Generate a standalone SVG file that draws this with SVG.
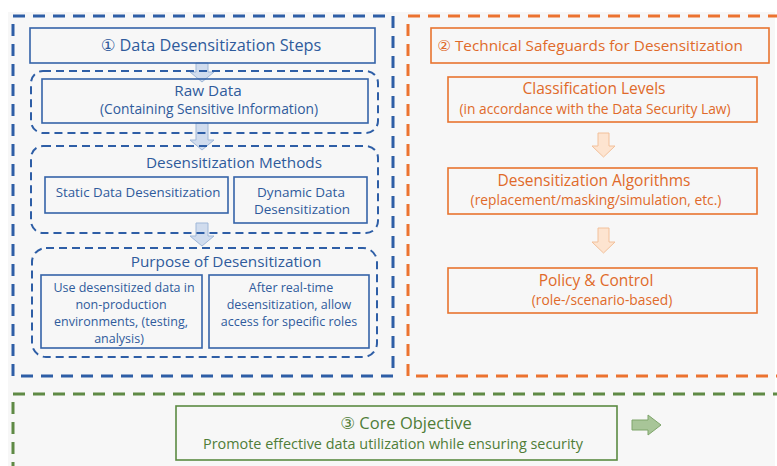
<svg xmlns="http://www.w3.org/2000/svg" width="777" height="466" viewBox="0 0 777 466">
<style>
text{font-family:"Open Sans","Noto Sans","DejaVu Sans",sans-serif;text-anchor:middle;dominant-baseline:central}
.b{fill:#2f5b9c}.o{fill:#e06a2a}.g{fill:#4f7d37}
.bbox{fill:none;stroke:#3563a8;stroke-width:1.6}
.obox{fill:none;stroke:#e8742f;stroke-width:1.6}
.gbox{fill:none;stroke:#5b8a42;stroke-width:1.6}
.bdash{fill:none;stroke:#2e5ea6;stroke-width:3;stroke-dasharray:12 8}
.odash{fill:none;stroke:#ec7330;stroke-width:3;stroke-dasharray:12 8}
.gdash{fill:none;stroke:#5f8a45;stroke-width:3;stroke-dasharray:12 8}
.bin{fill:none;stroke:#2e5ea6;stroke-width:2;stroke-dasharray:8 5}
.barr{fill:#d0dcee;stroke:#9fb7d8;stroke-width:1}
.oarr{fill:#fde4d0;stroke:#f2c09a;stroke-width:1}
.garr{fill:#a8c598;stroke:#7fa56b;stroke-width:1}
.sm{font-size:12.5px}
</style>
<rect width="777" height="466" fill="#ffffff"/>
<rect x="8" y="12" width="767" height="454" fill="#f7f7f7"/>

<g id="section1">
<rect class="bdash" x="13" y="16" width="380" height="360"/>
</g>
<g id="section2">
<rect class="odash" x="408" y="16" width="380" height="360"/>
</g>
<g id="section3">
<rect class="gdash" x="13" y="394" width="780" height="100"/>
</g>

<g id="connectors">
<path class="barr" d="M196,63 H208 V72 H214 L202,82 L190,72 H196 Z"/>
<path class="barr" d="M196,123 H208 V140 H214 L202,150 L190,140 H196 Z"/>
<path class="barr" d="M196,223 H208 V236 H214 L202,246 L190,236 H196 Z"/>
<path class="oarr" d="M598,133 H609 V146 H615 L603.5,157 L592,146 H598 Z"/>
<path class="oarr" d="M598,228 H609 V242 H615 L603.5,253 L592,242 H598 Z"/>
<path class="garr" d="M632,420 H648 V415 L661,425 L648,435 V430 H632 Z"/>
</g>

<g id="title1">
<rect class="bbox" x="30" y="28" width="345" height="35"/>
<text class="b" x="211" y="45" font-size="16.3">① Data Desensitization Steps</text>
</g>

<g id="rawdata">
<rect class="bin" x="31" y="71" width="347" height="62" rx="12"/>
<rect class="bbox" x="42" y="79" width="326" height="44"/>
<text class="b" x="208" y="90" font-size="15.3">Raw Data</text>
<text class="b" x="209" y="108" font-size="13.8">(Containing Sensitive Information)</text>
</g>

<g id="methods">
<rect class="bin" x="31" y="146" width="347" height="87" rx="12"/>
<text class="b" x="234" y="162" font-size="15.3">Desensitization Methods</text>
<rect class="bbox" x="45" y="177" width="183" height="36"/>
<text class="b" x="138" y="192" font-size="13.3">Static Data Desensitization</text>
<rect class="bbox" x="234" y="177" width="133" height="46"/>
<text class="b" x="301" y="192" font-size="13.5">Dynamic Data</text>
<text class="b" x="302" y="209" font-size="13.5">Desensitization</text>
</g>

<g id="purpose">
<rect class="bin" x="32" y="248" width="345" height="109" rx="14"/>
<text class="b" x="226" y="261" font-size="15.3">Purpose of Desensitization</text>
<rect class="bbox" x="41" y="275" width="161" height="73"/>
<text class="b sm" x="124" y="287">Use desensitized data in</text>
<text class="b sm" x="121" y="304">non-production</text>
<text class="b sm" x="121" y="321">environments, (testing,</text>
<text class="b sm" x="119" y="338">analysis)</text>
<rect class="bbox" x="209" y="275" width="160" height="73"/>
<text class="b sm" x="291" y="287">After real-time</text>
<text class="b sm" x="289" y="304">desensitization, allow</text>
<text class="b sm" x="289" y="321">access for specific roles</text>
</g>

<g id="title2">
<rect class="obox" x="431" y="28" width="338" height="35"/>
<text class="o" x="590" y="45" font-size="15.3">② Technical Safeguards  for Desensitization</text>
</g>

<g id="classification">
<rect class="obox" x="448" y="77" width="309" height="45"/>
<text class="o" x="594" y="88" font-size="15.5">Classification Levels</text>
<text class="o" x="595" y="108" font-size="13.8">(in accordance with the Data Security Law)</text>
</g>

<g id="algorithms">
<rect class="obox" x="448" y="168" width="309" height="46"/>
<text class="o" x="594" y="180" font-size="15.5">Desensitization Algorithms</text>
<text class="o" x="596" y="199" font-size="13.8">(replacement/masking/simulation,  etc.)</text>
</g>

<g id="policy">
<rect class="obox" x="448" y="268" width="309" height="45"/>
<text class="o" x="596" y="280" font-size="15.5">Policy &amp; Control</text>
<text class="o" x="602" y="299" font-size="13.8">(role-/scenario-based)</text>
</g>

<g id="core">
<rect class="gbox" x="176" y="406" width="441" height="54"/>
<text class="g" x="406" y="422" font-size="16.5">③ Core Objective</text>
<text class="g" x="393" y="443" font-size="14.4">Promote effective data utilization while ensuring security</text>
</g>
</svg>
